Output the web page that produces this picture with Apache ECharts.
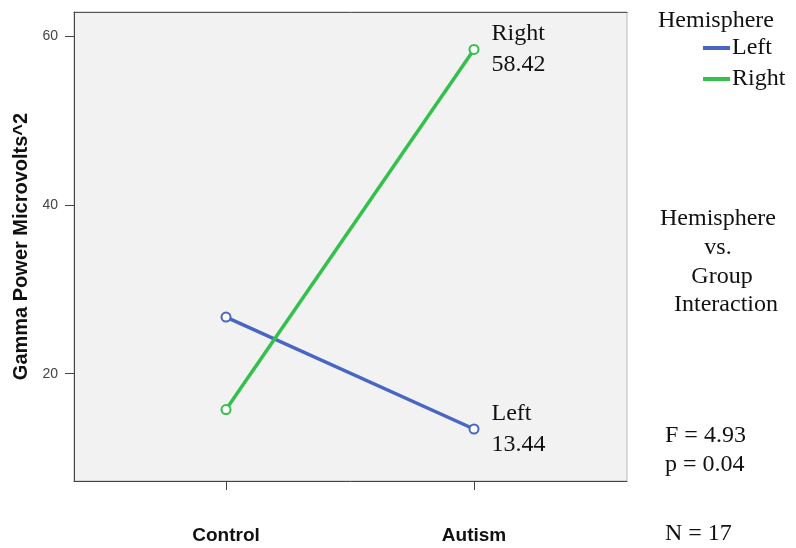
<!DOCTYPE html>
<html>
<head>
<meta charset="utf-8">
<script src="https://cdn.jsdelivr.net/npm/echarts@6/dist/echarts.min.js"></script>
<style>
  html, body { margin: 0; padding: 0; background: #ffffff; }
  #chart { width: 796px; height: 548px; }
</style>
</head>
<body>
<div id="chart"></div>
<script>
// Groups on the x axis (placed at positions 0 and 1)
const groups = ['Control', 'Autism'];
// Mean gamma power per hemisphere
const leftValues = [26.7, 13.44];
const rightValues = [15.75, 58.42];
const yTicks = [20, 40, 60];
const seriesNames = ['Left', 'Right'];

const serif = '"Liberation Serif", "Times New Roman", serif';
const sans = '"Liberation Sans", Arial, sans-serif';

const blue = '#4a66c4';
const green = '#33c04c';

function toPoints(vals) {
  return vals.map((v, i) => [i, v]);
}

function endLabel(name) {
  return {
    show: true,
    position: 'right',
    distance: 12,
    formatter: (p) => p.dataIndex === groups.length - 1 ? name + '\n' + p.value[1].toFixed(2) : '',
    fontFamily: serif,
    fontSize: 24,
    lineHeight: 31,
    color: '#111'
  };
}

function note(text, x, y, align) {
  return {
    type: 'text', x: x, y: y,
    style: { text: text, font: '24px ' + serif, fill: '#111', align: align || 'left', verticalAlign: 'middle' }
  };
}

const chart = echarts.init(document.getElementById('chart'), null, { renderer: 'canvas' });

chart.setOption({
  animation: false,
  backgroundColor: '#ffffff',
  grid: {
    left: 74, right: 169, top: 12, bottom: 67,
    show: true,
    backgroundColor: '#f2f2f2',
    borderColor: '#b8b8b8',
    borderWidth: 1
  },
  legend: {
    orient: 'vertical',
    left: 703,
    top: 36,
    padding: 0,
    itemWidth: 27,
    itemHeight: 4,
    itemGap: 7,
    icon: 'rect',
    data: [
      { name: seriesNames[0], itemStyle: { color: blue, borderWidth: 0 } },
      { name: seriesNames[1], itemStyle: { color: green, borderWidth: 0 } }
    ],
    textStyle: { fontFamily: serif, fontSize: 24, lineHeight: 24, color: '#111', padding: [0, 0, 0, -3] }
  },
  xAxis: [{
    type: 'value',
    min: -0.613,
    max: 1.617,
    splitLine: { show: false },
    axisLine: { show: true, onZero: false, lineStyle: { color: '#444', width: 1 } },
    axisTick: { show: true, length: 9, customValues: [0, 1], lineStyle: { color: '#444' } },
    axisLabel: {
      customValues: [0, 1],
      formatter: (v) => groups[Math.round(v)] || '',
      margin: 45,
      fontFamily: sans,
      fontWeight: 'bold',
      fontSize: 19,
      color: '#111'
    }
  }, {
    type: 'value',
    position: 'top',
    min: -0.613,
    max: 1.617,
    splitLine: { show: false },
    axisLine: { show: true, onZero: false, lineStyle: { color: '#555', width: 1 } },
    axisTick: { show: false },
    axisLabel: { show: false }
  }],
  yAxis: {
    type: 'value',
    min: 7.28,
    max: 62.85,
    name: 'Gamma Power Microvolts^2',
    nameLocation: 'middle',
    nameGap: 42,
    nameTextStyle: { fontFamily: sans, fontWeight: 'bold', fontSize: 20, color: '#111' },
    splitLine: { show: false },
    axisLine: { show: true, onZero: false, lineStyle: { color: '#444', width: 1 } },
    axisTick: { show: true, length: 9, customValues: yTicks, lineStyle: { color: '#444' } },
    axisLabel: {
      customValues: yTicks,
      margin: 16,
      fontFamily: sans,
      fontSize: 14,
      color: '#444'
    }
  },
  graphic: [
    note('Hemisphere', 658, 21),
    note('Hemisphere', 718, 219, 'center'),
    note('vs.', 718, 248, 'center'),
    note('Group', 722, 277, 'center'),
    note('Interaction', 726, 305, 'center'),
    note('F = 4.93', 665, 436),
    note('p = 0.04', 665, 465),
    note('N = 17', 665, 534)
  ],
  series: [{
    name: 'Left',
    type: 'line',
    data: toPoints(leftValues),
    color: blue,
    lineStyle: { width: 3.5, color: blue },
    symbol: 'emptyCircle',
    symbolSize: 9,
    itemStyle: { color: blue, borderWidth: 1.5 },
    label: endLabel('Left')
  }, {
    name: 'Right',
    type: 'line',
    data: toPoints(rightValues),
    color: green,
    lineStyle: { width: 3.5, color: green },
    symbol: 'emptyCircle',
    symbolSize: 9,
    itemStyle: { color: green, borderWidth: 1.5 },
    label: endLabel('Right')
  }]
});
</script>
</body>
</html>
